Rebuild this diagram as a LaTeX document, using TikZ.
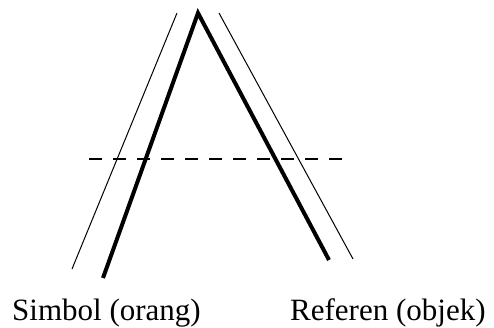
\documentclass[tikz,border=0pt]{standalone}
\usepackage{fontspec}
\setmainfont{Liberation Serif}
\usepackage{tikz}

\begin{document}
\begin{tikzpicture}[x=1pt,y=-1pt,
  thickleg/.style={line width=4pt,miter limit=20},
  thinleg/.style={line width=1pt},
  cutline/.style={line width=1.3pt,dash pattern=on 13pt off 11pt},
  label/.style={font=\fontsize{31}{36}\selectfont,inner sep=0pt}]
  \useasboundingbox (0,0) rectangle (494,327);
  % the thick A
  \coordinate (apex) at (198,13);
  \coordinate (lfoot) at (103,278);
  \coordinate (rfoot) at (329,260);
  \draw[thickleg] (lfoot) -- (apex) -- (rfoot);
  % thin lines beside it
  \coordinate (ltop) at (177,13);
  \coordinate (lend) at (72,269);
  \coordinate (rtop) at (219,13);
  \coordinate (rend) at (353,259);
  \draw[thinleg] (lend) -- (ltop);
  \draw[thinleg] (rtop) -- (rend);
  % dashed cut
  \coordinate (cutl) at (89,159);
  \coordinate (cutr) at (347,159);
  \draw[cutline] (cutl) -- (cutr);
  \node[label,anchor=base west] (simbol) at (12,320) {Simbol (orang)};
  \node[label,anchor=base west] (referen) at (290,320) {Referen (objek)};
\end{tikzpicture}
\end{document}
